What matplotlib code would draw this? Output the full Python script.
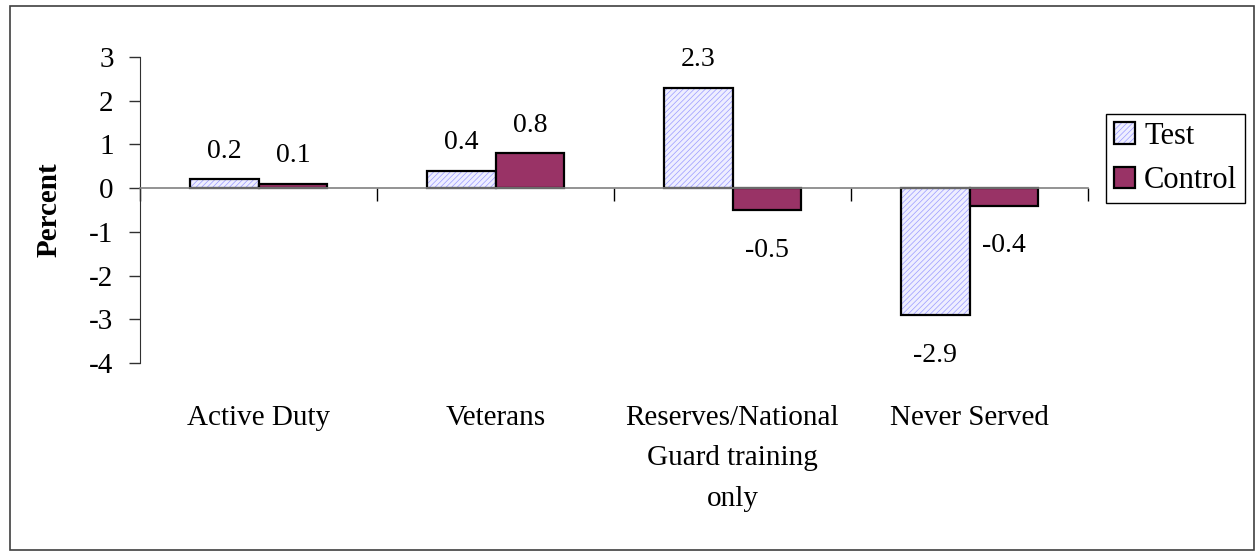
"""
Test vs control change by military status, bar chart.
"""
import numpy as np
import matplotlib
matplotlib.use("Agg")
import matplotlib.pyplot as plt
from matplotlib.patches import Rectangle

categories = ["Active Duty", "Veterans", "Reserves/National\nGuard training\nonly", "Never Served"]
test_vals = [0.2, 0.4, 2.3, -2.9]
control_vals = [0.1, 0.8, -0.5, -0.4]
series_names = ["Test", "Control"]
y_ticks = [-4, -3, -2, -1, 0, 1, 2, 3]

plt.rcParams["font.family"] = ["Liberation Serif", "DejaVu Serif"]
plt.rcParams["axes.unicode_minus"] = False
plt.rcParams["hatch.linewidth"] = 0.5

fig = plt.figure(figsize=(12.56, 5.56), dpi=100)
ax = fig.add_axes([140 / 1256, 1 - 363 / 556, 948 / 1256, 306 / 556])

x = np.arange(len(categories)) + 0.5
w = 0.29

# test bars: hatch layer then black outline
hatch_bars = ax.bar(x - w / 2, test_vals, w, color="#eeeeff", edgecolor="#9a9aff",
                    hatch="//////", linewidth=0)
test_bars = ax.bar(x - w / 2, test_vals, w, fill=False, edgecolor="black", linewidth=1.6)
ctrl_bars = ax.bar(x + w / 2, control_vals, w, color="#993366", edgecolor="black", linewidth=1.6)


# value labels, negatives sit a bit further below the bar end
def label_bars(xs, vals):
    for xi, v in zip(xs, vals):
        if v >= 0:
            ax.annotate(f"{v:.1f}", (xi, v), xytext=(0, 11), textcoords="offset points",
                        ha="center", va="bottom", fontsize=20)
        else:
            ax.annotate(f"{v:.1f}", (xi, v), xytext=(0, -20), textcoords="offset points",
                        ha="center", va="top", fontsize=20)


label_bars(x - w / 2, test_vals)
label_bars(x + w / 2, control_vals)

ax.set_xlim(0, 4)
ax.set_ylim(-4, 3)
ax.set_yticks(y_ticks)
ax.tick_params(axis="y", direction="out", length=8, width=1, pad=11, labelsize=21,
               color="#303030")

ax.spines["bottom"].set_position(("data", 0))
ax.spines["bottom"].set_color("#808080")
ax.spines["bottom"].set_linewidth(1.2)
ax.spines["left"].set_color("#303030")
ax.spines["top"].set_visible(False)
ax.spines["right"].set_visible(False)

ax.set_xticks(x)
ax.set_xticklabels(categories, fontsize=21, linespacing=1.72)
ax.set_xticks(np.arange(len(categories) + 1), minor=True)
ax.tick_params(axis="x", which="major", length=0, pad=156)
ax.tick_params(axis="x", which="minor", direction="out", length=9, width=1, color="black")

ax.set_ylabel("Percent", fontsize=21, fontweight="bold")
ax.yaxis.set_label_coords(-0.082, 0.5)

fig.legend([(hatch_bars[0], test_bars[0]), ctrl_bars[0]], series_names,
           loc="upper left", bbox_to_anchor=(1106 / 1256, 1 - 114 / 556),
           borderaxespad=0, fontsize=22, frameon=True, fancybox=False,
           edgecolor="black", framealpha=1, handlelength=0.7, handleheight=0.7,
           handletextpad=0.3, labelspacing=0.5, borderpad=0.25)

fig.patches.append(Rectangle((10 / 1256, 6 / 556), 1244 / 1256, 544 / 556,
                             transform=fig.transFigure, fill=False,
                             edgecolor="#404040", linewidth=1.2))

fig.savefig("out.png", dpi=100)
